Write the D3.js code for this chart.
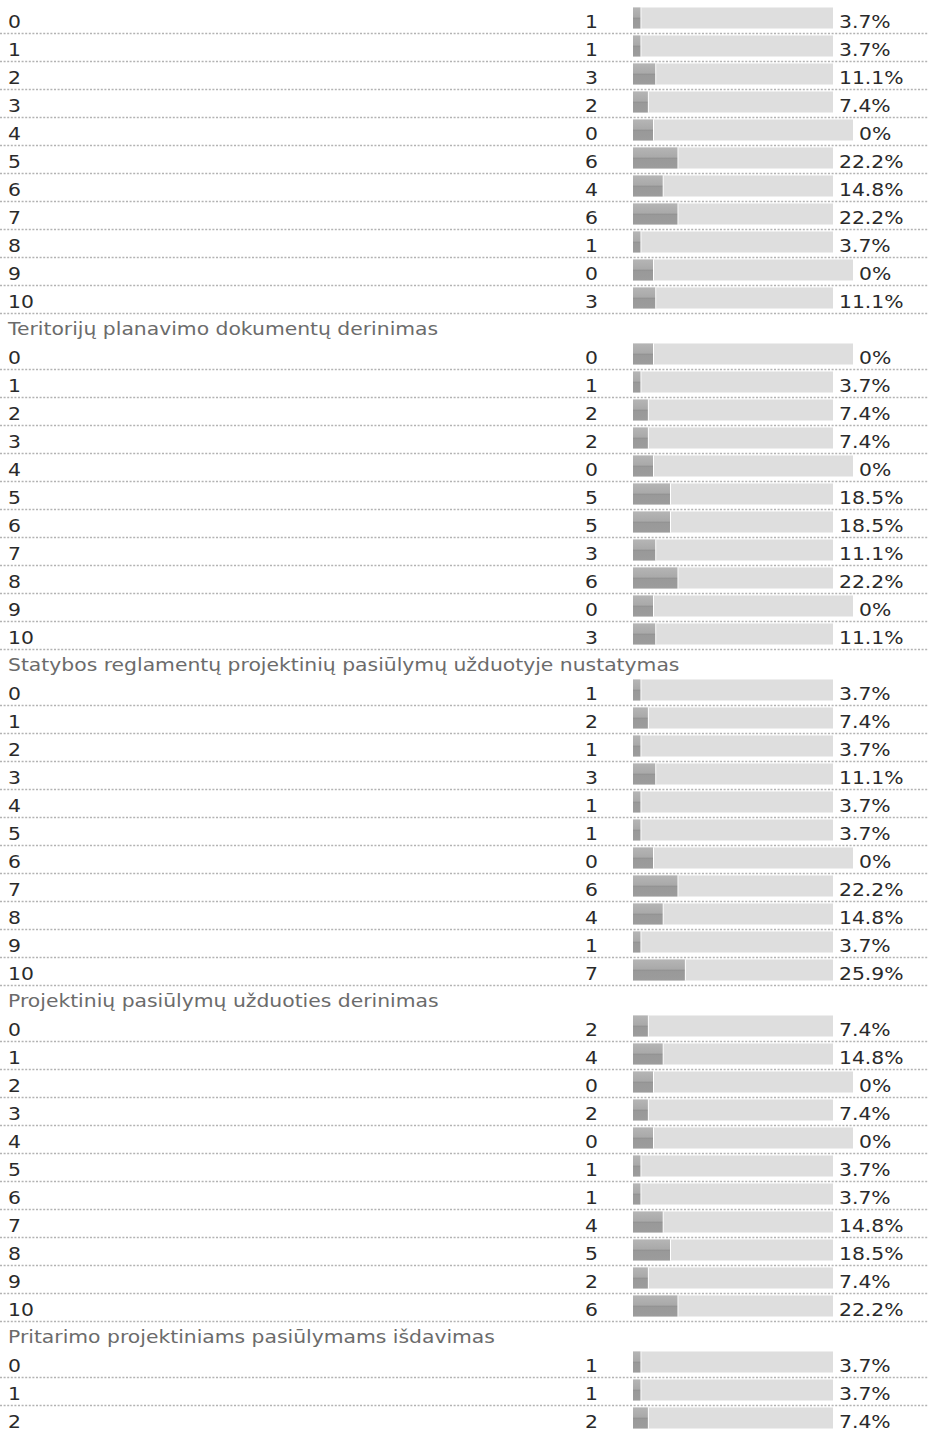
<!DOCTYPE html>
<html>
<head>
<meta charset="utf-8">
<script src="https://cdn.jsdelivr.net/npm/d3@7"></script>
<style>
body { margin: 0; background: #fff; }
svg text { font-family: "Century Gothic", "DejaVu Sans", sans-serif; font-size: 18px; }
</style>
</head>
<body>
<svg id="chart" width="928" height="1430"></svg>
<script>
// scale 0..10, answers per option
var SCORES = ["0","1","2","3","4","5","6","7","8","9","10"]

var TITLES = [
	null, // first block's title is above the crop
	"Teritorijų planavimo dokumentų derinimas",
	"Statybos reglamentų projektinių pasiūlymų užduotyje nustatymas",
	"Projektinių pasiūlymų užduoties derinimas",
	"Pritarimo projektiniams pasiūlymams išdavimas"
]

var COUNTS1 = [1,1,3,2,0,6,4,6,1,0,3]
var PCT1 = [3.7,3.7,11.1,7.4,0,22.2,14.8,22.2,3.7,0,11.1]
var COUNTS2 = [0,1,2,2,0,5,5,3,6,0,3]
var PCT2 = [0,3.7,7.4,7.4,0,18.5,18.5,11.1,22.2,0,11.1]
var COUNTS3 = [1,2,1,3,1,1,0,6,4,1,7]
var PCT3 = [3.7,7.4,3.7,11.1,3.7,3.7,0,22.2,14.8,3.7,25.9]
var COUNTS4 = [2,4,0,2,0,1,1,4,5,2,6]
var PCT4 = [7.4,14.8,0,7.4,0,3.7,3.7,14.8,18.5,7.4,22.2]
var COUNTS5 = [1,1,2]
var PCT5 = [3.7,3.7,7.4]

var COUNTS = [COUNTS1, COUNTS2, COUNTS3, COUNTS4, COUNTS5]
var PCTS = [PCT1, PCT2, PCT3, PCT4, PCT5]

var ROW_H = 28
var BAR_X = 633
var BAR_W = 200
var WIDE = 1.13 // stretch the fallback font toward the wide original face

// flatten into rows, a title takes its own row slot (no rule under it)
var rows = []
TITLES.forEach(function(t, s){
	if(t) rows.push({type: "title", text: t})
	COUNTS[s].forEach(function(c, i){
		rows.push({type: "data", label: SCORES[i], count: c, pct: PCTS[s][i]})
	})
})

var svg = d3.select("#chart")

var y = d3.scaleBand()
	.domain(d3.range(rows.length))
	.range([5.5, 5.5 + rows.length * ROW_H])

var x = d3.scaleLinear()
	.domain([0, 100])
	.range([0, BAR_W])

function at(tx, ty){ return "translate(" + tx + "," + ty + ") scale(" + WIDE + ",1)" }

var grad = svg.append("defs").append("linearGradient")
	.attr("id", "dark")
	.attr("x1", 0).attr("y1", 0).attr("x2", 0).attr("y2", 1)
grad.selectAll("stop")
	.data([["0%","#b5b5b5"],["47%","#a9a9a9"],["49%","#8e8e8e"],["56%","#999"],["100%","#9c9c9c"]])
	.enter().append("stop")
	.attr("offset", function(d){ return d[0] })
	.attr("stop-color", function(d){ return d[1] })

var row = svg.selectAll("g.row")
	.data(rows)
	.enter().append("g")
	.attr("class", "row")
	.attr("transform", function(d, i){ return "translate(0," + y(i) + ")" })

var titles = row.filter(function(d){ return d.type == "title" })
titles.append("text")
	.attr("transform", at(8, ROW_H - 7))
	.attr("fill", "#6b6b6b")
	.text(function(d){ return d.text })

var data = row.filter(function(d){ return d.type == "data" })

data.append("line")
	.attr("x1", 0)
	.attr("x2", 928)
	.attr("y1", ROW_H)
	.attr("y2", ROW_H)
	.attr("stroke", "#b3b3b3")
	.attr("stroke-width", 1.5)
	.attr("stroke-dasharray", "2,1.6")

data.append("text")
	.attr("transform", at(8, ROW_H - 6))
	.attr("fill", "#2a2a2a")
	.text(function(d){ return d.label })

data.append("text")
	.attr("transform", at(598, ROW_H - 6))
	.attr("text-anchor", "end")
	.attr("fill", "#2a2a2a")
	.text(function(d){ return d.count })

// an empty answer still gets a stub, and a longer track
function darkW(d){ return d.pct == 0 ? 20 : x(d.pct) }
function trackW(d){ return d.pct == 0 ? BAR_W + 20 : BAR_W }

data.append("rect")
	.attr("x", BAR_X)
	.attr("y", ROW_H - 26)
	.attr("width", trackW)
	.attr("height", 21)
	.attr("fill", "#dedede")

data.append("rect")
	.attr("x", function(d){ return BAR_X + darkW(d) })
	.attr("y", ROW_H - 26)
	.attr("width", 1)
	.attr("height", 21)
	.attr("fill", "#fff")

data.append("rect")
	.attr("x", BAR_X)
	.attr("y", ROW_H - 26)
	.attr("width", darkW)
	.attr("height", 21)
	.attr("fill", "url(#dark)")

data.append("text")
	.attr("transform", function(d){ return at(BAR_X + trackW(d) + 6, ROW_H - 6) })
	.attr("fill", "#2a2a2a")
	.text(function(d){ return (d.pct == 0 ? "0" : d3.format(".1f")(d.pct)) + "%" })
</script>
</body>
</html>
